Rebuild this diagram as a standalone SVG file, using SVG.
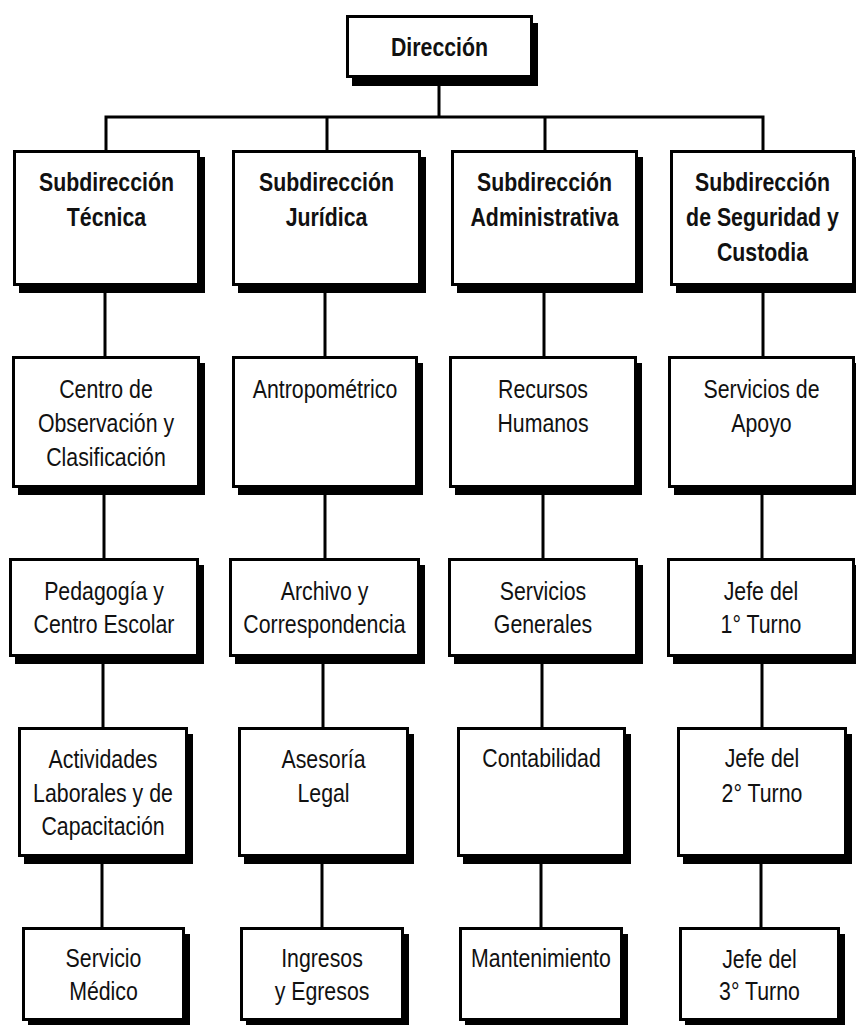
<svg xmlns="http://www.w3.org/2000/svg" width="856" height="1025" viewBox="0 0 856 1025">
<style>
.box{fill:#fff;stroke:#000;stroke-width:3}
.sh{fill:#000}
.ln{fill:none;stroke:#000;stroke-width:3}
.t{font-family:"Liberation Sans Narrow","Arial Narrow","Liberation Sans",Arial,sans-serif;font-size:26px;text-anchor:middle;fill:#111}
.b{font-weight:bold;font-size:26px}
</style>
<rect width="856" height="1025" fill="#fff"/>
<g id="connectors" class="ln">
<path d="M439 78V117M104.5 117H764.5M106 117V150M327 117V150M545 117V150M763 117V150"/>
<path d="M105 286V356M325 286V356M544 286V356M763 286V356"/>
<path d="M104 488V558M325 488V558M543 488V558M762 488V558"/>
<path d="M103 657V727M323 657V727M542 657V727M762 657V727"/>
<path d="M102 857V927M322 857V927M541 857V927M761 857V927"/>
</g>
<g id="n-direccion"><rect class="sh" x="352" y="23" width="186" height="63"/><rect class="box" x="347.5" y="16.5" width="184" height="60"/><g transform="translate(439.5 0) scale(0.82 1)"><text class="t b" y="56">Dirección</text></g></g>

<g id="n-sub-tecnica"><rect class="sh" x="19" y="157" width="186" height="136"/><rect class="box" x="14.5" y="151.5" width="184" height="133"/><g transform="translate(106.5 0) scale(0.82 1)"><text class="t b" y="191">Subdirección</text><text class="t b" y="226">Técnica</text></g></g>
<g id="n-sub-juridica"><rect class="sh" x="238" y="157" width="188" height="136"/><rect class="box" x="233.5" y="151.5" width="186" height="133"/><g transform="translate(326.5 0) scale(0.82 1)"><text class="t b" y="191">Subdirección</text><text class="t b" y="226">Jurídica</text></g></g>
<g id="n-sub-admin"><rect class="sh" x="457" y="157" width="186" height="136"/><rect class="box" x="452.5" y="151.5" width="184" height="133"/><g transform="translate(544.5 0) scale(0.82 1)"><text class="t b" y="191">Subdirección</text><text class="t b" y="226">Administrativa</text></g></g>
<g id="n-sub-seguridad"><rect class="sh" x="676" y="157" width="184" height="136"/><rect class="box" x="671.5" y="151.5" width="182" height="133"/><g transform="translate(762.5 0) scale(0.82 1)"><text class="t b" y="191">Subdirección</text><text class="t b" y="226">de Seguridad y</text><text class="t b" y="261">Custodia</text></g></g>

<g id="n-centro-obs"><rect class="sh" x="18" y="363" width="187" height="132"/><rect class="box" x="13.5" y="357.5" width="185" height="129"/><g transform="translate(106 0) scale(0.82 1)"><text class="t" y="398">Centro de</text><text class="t" y="432">Observación y</text><text class="t" y="466">Clasificación</text></g></g>
<g id="n-antropometrico"><rect class="sh" x="238" y="363" width="185" height="132"/><rect class="box" x="233.5" y="357.5" width="183" height="129"/><g transform="translate(325 0) scale(0.82 1)"><text class="t" y="398">Antropométrico</text></g></g>
<g id="n-recursos"><rect class="sh" x="455" y="363" width="187" height="132"/><rect class="box" x="450.5" y="357.5" width="185" height="129"/><g transform="translate(543 0) scale(0.82 1)"><text class="t" y="398">Recursos</text><text class="t" y="432">Humanos</text></g></g>
<g id="n-servicios-apoyo"><rect class="sh" x="674" y="363" width="186" height="132"/><rect class="box" x="669.5" y="357.5" width="184" height="129"/><g transform="translate(761.5 0) scale(0.82 1)"><text class="t" y="398">Servicios de</text><text class="t" y="432">Apoyo</text></g></g>

<g id="n-pedagogia"><rect class="sh" x="15" y="565" width="189" height="99"/><rect class="box" x="10.5" y="559.5" width="187" height="96"/><g transform="translate(104 0) scale(0.82 1)"><text class="t" y="600">Pedagogía y</text><text class="t" y="633">Centro Escolar</text></g></g>
<g id="n-archivo"><rect class="sh" x="235" y="565" width="190" height="99"/><rect class="box" x="230.5" y="559.5" width="188" height="96"/><g transform="translate(324.5 0) scale(0.82 1)"><text class="t" y="600">Archivo y</text><text class="t" y="633">Correspondencia</text></g></g>
<g id="n-servicios-generales"><rect class="sh" x="454" y="565" width="189" height="99"/><rect class="box" x="449.5" y="559.5" width="187" height="96"/><g transform="translate(543 0) scale(0.82 1)"><text class="t" y="600">Servicios</text><text class="t" y="633">Generales</text></g></g>
<g id="n-jefe1"><rect class="sh" x="673" y="565" width="187" height="99"/><rect class="box" x="668.5" y="559.5" width="185" height="96"/><g transform="translate(761 0) scale(0.82 1)"><text class="t" y="600">Jefe del</text><text class="t" y="633">1° Turno</text></g></g>

<g id="n-actividades"><rect class="sh" x="24" y="734" width="169" height="130"/><rect class="box" x="19.5" y="728.5" width="167" height="127"/><g transform="translate(103 0) scale(0.82 1)"><text class="t" y="768">Actividades</text><text class="t" y="802">Laborales y de</text><text class="t" y="835">Capacitación</text></g></g>
<g id="n-asesoria"><rect class="sh" x="244" y="734" width="170" height="130"/><rect class="box" x="239.5" y="728.5" width="168" height="127"/><g transform="translate(323.5 0) scale(0.82 1)"><text class="t" y="768">Asesoría</text><text class="t" y="802">Legal</text></g></g>
<g id="n-contabilidad"><rect class="sh" x="463" y="734" width="168" height="130"/><rect class="box" x="458.5" y="728.5" width="166" height="127"/><g transform="translate(541.5 0) scale(0.82 1)"><text class="t" y="767">Contabilidad</text></g></g>
<g id="n-jefe2"><rect class="sh" x="683" y="734" width="169" height="130"/><rect class="box" x="678.5" y="728.5" width="167" height="127"/><g transform="translate(762 0) scale(0.82 1)"><text class="t" y="767">Jefe del</text><text class="t" y="802">2° Turno</text></g></g>

<g id="n-servicio-medico"><rect class="sh" x="28" y="934" width="162" height="94"/><rect class="box" x="23.5" y="928.5" width="160" height="91"/><g transform="translate(103.5 0) scale(0.82 1)"><text class="t" y="967">Servicio</text><text class="t" y="1000">Médico</text></g></g>
<g id="n-ingresos"><rect class="sh" x="246" y="934" width="163" height="94"/><rect class="box" x="241.5" y="928.5" width="161" height="91"/><g transform="translate(322 0) scale(0.82 1)"><text class="t" y="967">Ingresos</text><text class="t" y="1000">y Egresos</text></g></g>
<g id="n-mantenimiento"><rect class="sh" x="465" y="934" width="163" height="94"/><rect class="box" x="460.5" y="928.5" width="161" height="91"/><g transform="translate(541 0) scale(0.82 1)"><text class="t" y="967">Mantenimiento</text></g></g>
<g id="n-jefe3"><rect class="sh" x="685" y="934" width="160" height="94"/><rect class="box" x="680.5" y="928.5" width="158" height="91"/><g transform="translate(759.5 0) scale(0.82 1)"><text class="t" y="968">Jefe del</text><text class="t" y="1000">3° Turno</text></g></g>
</svg>
